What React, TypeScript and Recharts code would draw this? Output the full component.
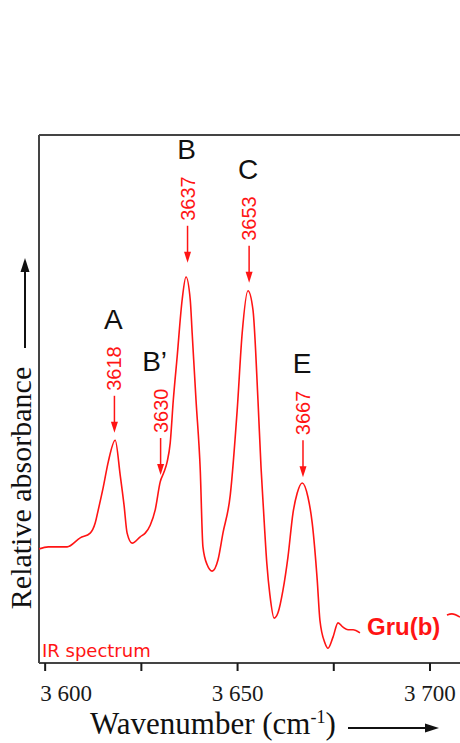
import React from "react";
import { LineChart, Line, XAxis, YAxis, ReferenceLine, ReferenceDot, Customized } from "recharts";

// spectrum (wavenumber in cm-1, relative absorbance 0-100)
const wavenumbers = [
  3598.4, 3600.8, 3605.7, 3609.1, 3611.7, 3613.0, 3613.8, 3615.1, 3616.4, 3618.2, 3619.5, 3620.5,
  3621.3, 3622.6, 3624.7, 3626.0, 3627.3, 3628.6, 3629.9, 3630.9, 3631.7, 3632.5, 3633.3, 3634.3,
  3635.6, 3636.6, 3637.7, 3638.2, 3639.2, 3640.3, 3641.0, 3642.1, 3643.4, 3644.9, 3646.2, 3648.1,
  3649.9, 3651.2, 3652.7, 3654.0, 3655.3, 3656.1, 3656.7, 3657.6, 3658.4, 3659.5, 3660.5, 3661.8,
  3663.1, 3664.4, 3665.5, 3666.8, 3668.3, 3669.4, 3670.7, 3671.4, 3672.7, 3673.5, 3674.8, 3676.1,
  3677.4, 3678.7, 3680.0, 3681.8, 3704.4, 3705.7, 3707.8,
];
const absorbance = [
  21.6, 22.0, 22.0, 23.7, 24.6, 26.5, 29.0, 33.3, 38.1, 42.2, 35.6, 29.9,
  24.6, 22.7, 23.9, 24.6, 26.1, 29.0, 34.3, 36.2, 38.1, 41.7, 49.8, 58.0,
  68.8, 73.1, 68.8, 62.5, 49.8, 36.6, 22.0, 18.6, 17.4, 19.5, 24.6, 31.8,
  47.9, 62.5, 70.5, 66.9, 49.8, 37.0, 29.5, 18.9, 12.9, 8.5, 9.5, 13.8,
  20.1, 28.4, 32.2, 34.1, 31.4, 26.5, 15.7, 8.1, 3.8, 2.8, 4.9, 7.6,
  6.8, 6.3, 6.3, 5.7, 9.1, 9.3, 8.7,
];
// the trace is hidden behind the "Gru(b)" label between these two wavenumbers
const labelGap = [3682, 3704];

const tickValues = [3600, 3625, 3650, 3675, 3700];
const tickLabels = ["3 600", "", "3 650", "", "3 700"];

// band annotations: wavenumber, letter, where the arrow points
const peakWavenumbers = [3618, 3630, 3637, 3653, 3667];
const peakLetters = ["A", "B\u2019", "B", "C", "E"];
const peakTips = [43.6, 35.6, 75.8, 72.0, 35.2];

const data = wavenumbers.map((wn, i) => ({
  wn,
  main: wn < labelGap[0] ? absorbance[i] : null,
  tail: wn > labelGap[1] ? absorbance[i] : null,
}));

const X_DOMAIN: [number, number] = [3598.4, 3707.8];
const RED = "#ff1414";
const FRAME = "#444";
const SERIF = "'Liberation Serif', 'Times New Roman', serif";
const SANS = "'Liberation Sans', Arial, sans-serif";
const TAHOMA = "'DejaVu Sans', Verdana, sans-serif";

function WnTick(props: any) {
  const { x, y, payload } = props;
  const idx = tickValues.indexOf(payload.value);
  const text = idx >= 0 ? tickLabels[idx] : "";
  if (!text) return null;
  const first = idx === 0;
  return (
    <text
      x={first ? x - 5 : x}
      y={y + 28}
      textAnchor={first ? "start" : "middle"}
      fontSize={23}
      fontFamily={SERIF}
      fill="#1a1a1a"
    >
      {text}
    </text>
  );
}

function PeakMark({ cx, cy, wn, letter }: { cx: number; cy: number; wn: number; letter: string }) {
  const numBase = cy - 42;
  const letterBase = numBase - 62;
  const letterX = letter.length > 1 ? cx - 6 : cx - 1;
  return (
    <g>
      <line x1={cx} y1={cy - 37} x2={cx} y2={cy - 6} stroke={RED} strokeWidth={1.5} />
      <polygon points={`${cx},${cy} ${cx - 3.5},${cy - 11} ${cx + 3.5},${cy - 11}`} fill={RED} />
      <text
        x={cx + 7}
        y={numBase}
        transform={`rotate(-90, ${cx + 7}, ${numBase})`}
        fontSize={20}
        fontFamily={SANS}
        fill={RED}
      >
        {wn}
      </text>
      <text x={letterX} y={letterBase} textAnchor="middle" fontSize={28} fontFamily={SANS} fill="#111">
        {letter}
      </text>
    </g>
  );
}

function Decorations() {
  return (
    <g>
      <text x={367} y={635} fontSize={24} fontWeight="bold" fontFamily={SANS} fill={RED}>
        Gru(b)
      </text>
      <text x={42} y={657} fontSize={18} fontFamily={TAHOMA} fill={RED}>
        IR spectrum
      </text>

      <text
        x={31}
        y={488}
        transform="rotate(-90, 31, 488)"
        textAnchor="middle"
        fontSize={30}
        fontFamily={SERIF}
        fill="#111"
      >
        Relative absorbance
      </text>
      <line x1={25} y1={348} x2={25} y2={268} stroke="#111" strokeWidth={2} />
      <polygon points="25,258 20.5,272 29.5,272" fill="#111" />

      <text x={90} y={734} fontSize={31} fontFamily={SERIF} fill="#111">
        Wavenumber (cm
        <tspan dy={-11} fontSize={18}>-1</tspan>
        <tspan dy={11}>)</tspan>
      </text>
      <line x1={348} y1={728} x2={428} y2={728} stroke="#111" strokeWidth={2} />
      <polygon points="439,728 425,723.5 425,732.5" fill="#111" />
    </g>
  );
}

export default function App() {
  return (
    <div
      style={{
        position: "fixed",
        left: 0,
        top: 0,
        width: 460,
        height: 743,
        overflow: "hidden",
        background: "#fff",
      }}
    >
      <LineChart width={460} height={743} data={data} margin={{ top: 135, right: 0, left: 39, bottom: 0 }}>
        <XAxis
          dataKey="wn"
          type="number"
          domain={X_DOMAIN}
          allowDataOverflow
          ticks={tickValues}
          interval={0}
          height={80}
          tickSize={8}
          axisLine={{ stroke: FRAME, strokeWidth: 2 }}
          tickLine={{ stroke: "#1a1a1a", strokeWidth: 2 }}
          tick={<WnTick />}
        />
        <YAxis type="number" domain={[0, 100]} hide />
        <ReferenceLine y={100} stroke={FRAME} strokeWidth={2} />
        <ReferenceLine x={X_DOMAIN[0]} stroke={FRAME} strokeWidth={2} />
        <Line
          type="monotone"
          dataKey="main"
          stroke={RED}
          strokeWidth={1.6}
          dot={false}
          connectNulls={false}
          isAnimationActive={false}
        />
        <Line
          type="monotone"
          dataKey="tail"
          stroke={RED}
          strokeWidth={1.6}
          dot={false}
          connectNulls={false}
          isAnimationActive={false}
        />
        {peakWavenumbers.map((wn, i) => (
          <ReferenceDot
            key={wn}
            x={wn}
            y={peakTips[i]}
            r={0}
            shape={(p: any) => <PeakMark cx={p.cx} cy={p.cy} wn={wn} letter={peakLetters[i]} />}
          />
        ))}
        <Customized component={Decorations} />
      </LineChart>
    </div>
  );
}
